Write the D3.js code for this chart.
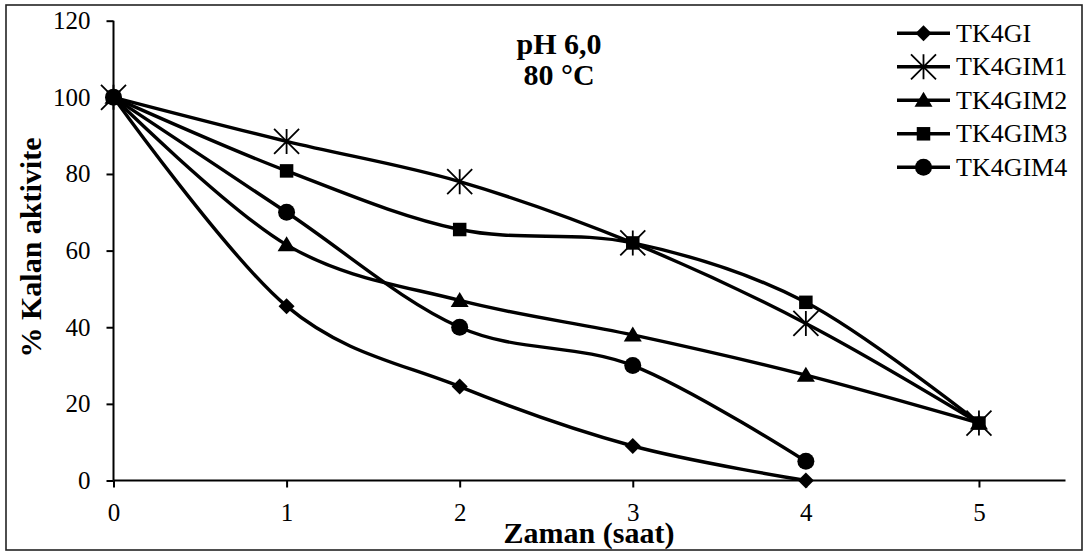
<!DOCTYPE html>
<html>
<head>
<meta charset="utf-8">
<script src="https://cdn.jsdelivr.net/npm/d3@7"></script>
<style>
  html, body { margin: 0; padding: 0; background: #fff; }
  svg { display: block; }
  text { font-family: "Liberation Serif", "Times New Roman", serif; fill: #000; }
</style>
</head>
<body>
<svg id="chart" width="1087" height="552"></svg>
<script>
// ---- data ----
const hours = [0, 1, 2, 3, 4, 5];
const xTicks = [0, 1, 2, 3, 4, 5];
const yTicks = [0, 20, 40, 60, 80, 100, 120];
const seriesNames = ["TK4GI", "TK4GIM1", "TK4GIM2", "TK4GIM3", "TK4GIM4"];
const markerTypes = ["diamond", "star", "triangle", "square", "circle"];
const tk4gi    = [100, 45.5, 24.5, 9, 0];
const tk4gim1  = [100, 88.5, 78, 62, 41, 15];
const tk4gim2  = [100, 61.5, 47, 38, 27.5, 15];
const tk4gim3  = [100, 80.8, 65.5, 62, 46.5, 15];
const tk4gim4  = [100, 70, 40, 30, 5];
const titleLines = ["pH 6,0", "80 °C"];
const xTitle = "Zaman (saat)";
const yTitle = "% Kalan aktivite";

const seriesValues = [tk4gi, tk4gim1, tk4gim2, tk4gim3, tk4gim4];

// ---- layout ----
const svg = d3.select("#chart");
const x = d3.scaleLinear().domain([0, 5.5]).range([113.5, 1065.5]);
const y = d3.scaleLinear().domain([0, 120]).range([480.5, 20.7]);

// border
svg.append("rect").attr("x", 6).attr("y", 5).attr("width", 1076).attr("height", 545)
  .attr("fill", "none").attr("stroke", "#222").attr("stroke-width", 1.6);

// axes
const yAxis = d3.axisLeft(y).tickValues(yTicks).tickSize(7).tickPadding(16).tickFormat(d3.format("d"));
const gy = svg.append("g").attr("transform", `translate(${x(0)},0)`).call(yAxis);
gy.select(".domain").attr("stroke", "#000").attr("stroke-width", 2).attr("d", `M0,${y(120)}V${y(0)}`);
gy.selectAll(".tick line").attr("stroke", "#000").attr("stroke-width", 2);
gy.selectAll(".tick text").attr("font-size", 25).attr("font-family", "Liberation Serif").attr("fill", "#000");

const xAxis = d3.axisBottom(x).tickValues(xTicks).tickSize(7).tickPadding(16).tickFormat(d3.format("d"));
const gx = svg.append("g").attr("transform", `translate(0,${y(0)})`).call(xAxis);
gx.select(".domain").attr("stroke", "#000").attr("stroke-width", 2).attr("d", `M${x(0)},0H${x(5.5)}`);
gx.selectAll(".tick line").attr("stroke", "#000").attr("stroke-width", 2);
gx.selectAll(".tick text").attr("font-size", 25).attr("font-family", "Liberation Serif").attr("fill", "#000")
  .attr("dy", null).attr("y", 40);

// markers
function drawMarker(g, type, cx, cy) {
  if (type === "diamond") {
    const h = 8;
    g.append("path").attr("d", `M${cx},${cy-h}L${cx+h},${cy}L${cx},${cy+h}L${cx-h},${cy}Z`).attr("fill", "#000");
  } else if (type === "square") {
    const s = 13.5;
    g.append("rect").attr("x", cx - s/2).attr("y", cy - s/2).attr("width", s).attr("height", s).attr("fill", "#000");
  } else if (type === "circle") {
    g.append("circle").attr("cx", cx).attr("cy", cy).attr("r", 8.5).attr("fill", "#000");
  } else if (type === "triangle") {
    g.append("path").attr("d", `M${cx},${cy-8.5}L${cx+9},${cy+6.5}L${cx-9},${cy+6.5}Z`).attr("fill", "#000");
  } else if (type === "star") {
    const r = 12.5;
    g.append("path")
      .attr("d", `M${cx-r},${cy-r}L${cx+r},${cy+r}M${cx-r},${cy+r}L${cx+r},${cy-r}M${cx},${cy-r}L${cx},${cy+r}`)
      .attr("stroke", "#000").attr("stroke-width", 1.8).attr("fill", "none");
  }
}

// series
const line = d3.line().x((d, i) => x(hours[i])).y(d => y(d)).curve(d3.curveCatmullRom.alpha(0));
const plot = svg.append("g");
seriesValues.forEach((vals, si) => {
  const g = plot.append("g");
  g.append("path").attr("d", line(vals)).attr("fill", "none").attr("stroke", "#000").attr("stroke-width", 3.4);
  vals.forEach((v, i) => drawMarker(g, markerTypes[si], x(hours[i]), y(v)));
});

// legend
const legend = svg.append("g");
seriesNames.forEach((name, i) => {
  const ly = 33.3 + i * 33.5;
  legend.append("line").attr("x1", 897).attr("x2", 950).attr("y1", ly).attr("y2", ly)
    .attr("stroke", "#000").attr("stroke-width", 3.4);
  drawMarker(legend, markerTypes[i], 923.5, ly);
  legend.append("text").attr("x", 956).attr("y", ly + 8.5).attr("font-size", 26).text(name);
});

// titles
titleLines.forEach((t, i) => {
  svg.append("text").attr("x", 559).attr("y", 54 + i * 31).attr("text-anchor", "middle")
    .attr("font-size", 30).attr("font-weight", "bold").text(t);
});
svg.append("text").attr("x", 589).attr("y", 543).attr("text-anchor", "middle")
  .attr("font-size", 30).attr("font-weight", "bold").text(xTitle);
svg.append("text").attr("transform", "translate(41,247.5) rotate(-90)").attr("text-anchor", "middle")
  .attr("font-size", 30).attr("font-weight", "bold").text(yTitle);
</script>
</body>
</html>
